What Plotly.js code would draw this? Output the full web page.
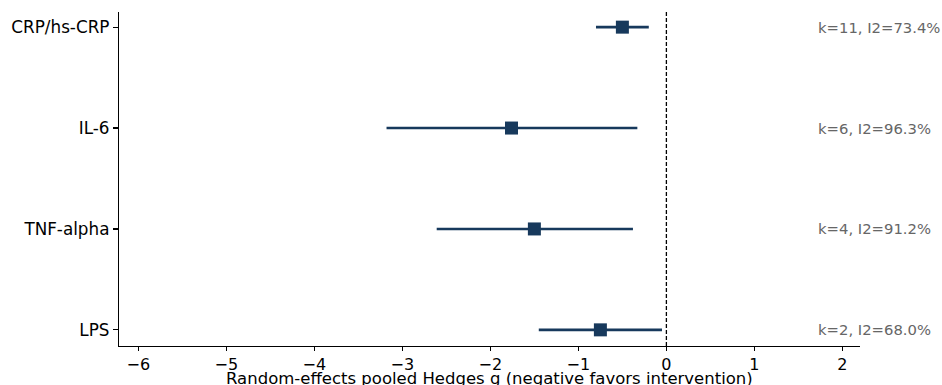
<!DOCTYPE html>
<html>
<head>
<meta charset="utf-8">
<script src="https://cdn.plot.ly/plotly-3.0.1.min.js"></script>
<style>html,body{margin:0;padding:0;background:#fff;}#chart{width:942px;height:385px;}</style>
</head>
<body>
<div id="chart"></div>
<script>
const outcomes = ["CRP/hs-CRP", "IL-6", "TNF-alpha", "LPS"];
const pooled = [-0.50, -1.76, -1.50, -0.75];
const ciLow = [-0.80, -3.18, -2.61, -1.45];
const ciHigh = [-0.20, -0.33, -0.38, -0.05];
const studyLabels = ["k=11, I2=73.4%", "k=6, I2=96.3%", "k=4, I2=91.2%", "k=2, I2=68.0%"];
const xTicks = [-6, -5, -4, -3, -2, -1, 0, 1, 2];
const xTickText = ["\u22126", "\u22125", "\u22124", "\u22123", "\u22122", "\u22121", "0", "1", "2"];
const xTitle = "Random-effects pooled Hedges g (negative favors intervention)";

const navy = "#17395c";
const font = "DejaVu Sans, sans-serif";

const trace = {
  type: "scatter",
  mode: "markers",
  x: pooled,
  y: outcomes,
  marker: {symbol: "square", size: 13, color: navy},
  error_x: {
    type: "data",
    symmetric: false,
    array: pooled.map((v, i) => ciHigh[i] - v),
    arrayminus: pooled.map((v, i) => v - ciLow[i]),
    color: navy,
    thickness: 2.6,
    width: 0
  },
  hoverinfo: "x+y",
  showlegend: false
};

const annotations = studyLabels.map((t, i) => ({
  x: 1.70, y: outcomes[i], xref: "x", yref: "y",
  text: t, showarrow: false, xanchor: "left", yanchor: "middle",
  font: {family: font, size: 14.8, color: "#666666"}
}));
// x-axis title, placed like the reference (partly below the page edge)
annotations.push({
  x: 0.5, y: -0.097, xref: "paper", yref: "paper",
  text: xTitle, showarrow: false, xanchor: "center", yanchor: "middle",
  font: {family: font, size: 16.5, color: "#000"}
});

const layout = {
  width: 942, height: 385,
  margin: {l: 119, r: 82, t: 12, b: 39},
  paper_bgcolor: "#ffffff", plot_bgcolor: "#ffffff",
  font: {family: font, color: "#000"},
  showlegend: false,
  xaxis: {
    range: [-6.22, 2.2],
    tickvals: xTicks, ticktext: xTickText,
    showgrid: false, zeroline: false,
    showline: true, linecolor: "#000", linewidth: 1.2,
    ticks: "outside", ticklen: 4, tickwidth: 1.2, tickcolor: "#000",
    tickfont: {family: font, size: 16, color: "#000"},
    automargin: false, fixedrange: true
  },
  yaxis: {
    type: "category",
    categoryorder: "array", categoryarray: outcomes,
    range: [3.16, -0.15],
    showgrid: false, zeroline: false,
    showline: true, linecolor: "#000", linewidth: 1.2,
    ticks: "outside", ticklen: 5, tickwidth: 1.2, tickcolor: "#000",
    tickfont: {family: font, size: 16.8, color: "#000"},
    automargin: false, fixedrange: true
  },
  shapes: [{
    type: "line", xref: "x", yref: "paper", x0: 0, x1: 0, y0: 0, y1: 1,
    line: {color: "#000", width: 1.3, dash: "4px,2px"}
  }],
  annotations: annotations
};

Plotly.newPlot("chart", [trace], layout, {displayModeBar: false, staticPlot: true});
</script>
</body>
</html>
